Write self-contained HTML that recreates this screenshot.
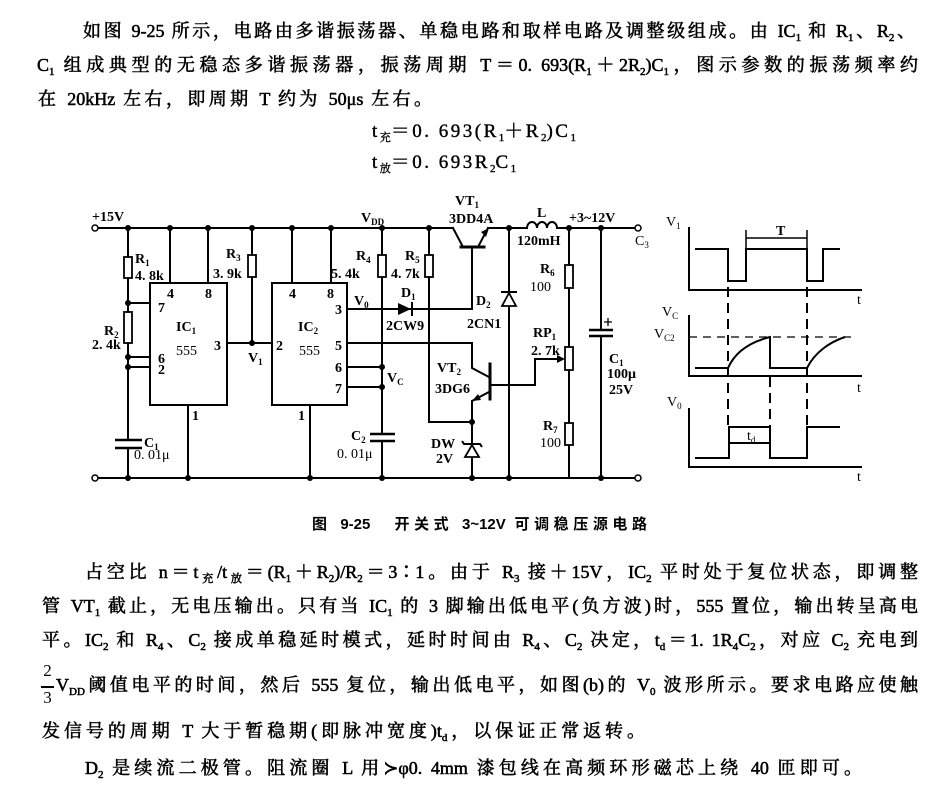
<!DOCTYPE html>
<html>
<head>
<meta charset="utf-8">
<style>
  html,body{margin:0;padding:0;background:#fff;}
  body{width:928px;height:799px;position:relative;overflow:hidden;}
  .ln{position:absolute;height:22px;line-height:22px;font-size:18px;
      font-family:"Liberation Serif","Noto Serif CJK SC",serif;color:#000;
      text-align:justify;text-align-last:justify;-webkit-text-stroke:0.55px #000;}
  .fm{position:absolute;height:22px;line-height:22px;font-size:19px;letter-spacing:2.5px;
      font-family:"Liberation Serif","Noto Serif CJK SC",serif;color:#000;white-space:nowrap;-webkit-text-stroke:0.4px #000;}
  .s{font-size:11px;vertical-align:-4px;line-height:0;letter-spacing:0;}
  .cap{position:absolute;height:20px;line-height:20px;font-size:15px;font-weight:bold;
      font-family:"Liberation Sans","Noto Sans CJK SC",sans-serif;text-align:justify;text-align-last:justify;}
  svg{position:absolute;left:0;top:0;}
  .lb{font-family:"Liberation Serif",serif;font-weight:bold;font-size:14px;fill:#000;}
  .wl{font-family:"Liberation Serif",serif;font-size:14px;fill:#000;}
</style>
</head>
<body>

<div class="ln" style="left:83px;top:20px;width:832px;">如图 9-25 所示，电路由多谐振荡器、单稳电路和取样电路及调整级组成。由 IC<span class="s">1</span> 和 R<span class="s">1</span>、R<span class="s">2</span>、</div>
<div class="ln" style="left:37px;top:54px;width:881px;">C<span class="s">1</span> 组成典型的无稳态多谐振荡器，振荡周期 T＝0. 693(R<span class="s">1</span>＋2R<span class="s">2</span>)C<span class="s">1</span>，图示参数的振荡频率约</div>
<div class="ln" style="left:38px;top:88px;width:394px;">在 20kHz 左右，即周期 T 约为 50μs 左右。</div>
<div class="fm" style="left:372px;top:121px;">t<span class="s">充</span>＝0. 693(R<span class="s">1</span>＋R<span class="s">2</span>)C<span class="s">1</span></div>
<div class="fm" style="left:372px;top:152px;">t<span class="s">放</span>＝0. 693R<span class="s">2</span>C<span class="s">1</span></div>

<svg width="928" height="799" viewBox="0 0 928 799">
 <g stroke="#000" stroke-width="2" fill="none" stroke-linecap="square">
  <path d="M98 228 H453"/>
  <path d="M488 228 H527"/>
  <path d="M527 228 a5 6 0 0 1 10 0 a5 6 0 0 1 10 0 a5 6 0 0 1 10 0"/>
  <path d="M557 228 H635"/>
  <path d="M98 478 H635"/>
  <path d="M128 228 V257 M128 278 V312 M128 343 V440 M128 448 V478"/>
  <path d="M128 303 H150 M128 357 H150 M128 367 H150"/>
  <rect x="150" y="283" width="77" height="122"/>
  <path d="M170 228 V283 M208 228 V283 M188 405 V478"/>
  <path d="M227 343 H272"/>
  <path d="M252 228 V255 M252 277 V343"/>
  <rect x="272" y="283" width="75" height="122"/>
  <path d="M292 228 V283 M331 228 V283 M310 405 V478"/>
  <path d="M347 309 H472"/>
  <path d="M347 343 H472 V368 L489 377"/>
  <path d="M347 367 H382 M347 387 H382"/>
  <path d="M382 228 V255 M382 277 V434 M382 441 V478"/>
  <path d="M429 228 V255 M429 277 V422 H472"/>
  <path d="M453 228 L463 247 M478 247 L488 228 M472 247 V309"/>
  <path d="M461 247 H484" stroke-width="3"/>
  <path d="M490 364 V399" stroke-width="3"/>
  <path d="M489 392 L472 401 V443 M472 457 V478"/>
  <path d="M490 385 H535 V359 H560"/>
  <path d="M509 228 V478"/>
  <path d="M569 228 V265 M569 288 V347 M569 370 V423 M569 445 V478"/>
  <path d="M601 228 V330 M601 336 V478"/>
 </g>
 <g stroke="#000" stroke-width="1.8" fill="#fff">
  <rect x="124" y="257" width="8" height="21"/>
  <rect x="124" y="312" width="8" height="31"/>
  <rect x="248" y="255" width="8" height="22"/>
  <rect x="378" y="255" width="8" height="22"/>
  <rect x="425" y="255" width="8" height="22"/>
  <rect x="565" y="265" width="8" height="23"/>
  <rect x="565" y="347" width="8" height="23"/>
  <rect x="565" y="423" width="8" height="22"/>
 </g>
 <g stroke="#000" stroke-width="2.5" fill="none">
  <path d="M115 440 H142 M115 448 H142"/>
  <path d="M370 434 H395 M370 441 H395"/>
  <path d="M589 330 H613 M589 336 H613"/>
 </g>
 <path d="M604 322 H612 M608 318 V326" stroke="#000" stroke-width="1.3"/>
 <polygon points="398,303 398,315 411,309" fill="#000"/>
 <path d="M412 302 V316" stroke="#000" stroke-width="2"/>
 <polygon points="502,306 516,306 509,293" fill="#fff" stroke="#000" stroke-width="1.8"/>
 <path d="M501 292 H517" stroke="#000" stroke-width="2"/>
 <polygon points="465,457 479,457 472,445" fill="#fff" stroke="#000" stroke-width="1.8"/>
 <path d="M462 441 L464 444 H480 L482 447" stroke="#000" stroke-width="2" fill="none"/>
 <polygon points="489,228 481,232 486,237" fill="#000"/>
 <polygon points="472,401 478,394 481,400" fill="#000"/>
 <polygon points="565,359 557,355 557,363" fill="#000"/>
 <g fill="#000">
  <circle cx="128" cy="228" r="3"/><circle cx="170" cy="228" r="3"/><circle cx="208" cy="228" r="3"/>
  <circle cx="252" cy="228" r="3"/><circle cx="292" cy="228" r="3"/><circle cx="331" cy="228" r="3"/>
  <circle cx="382" cy="228" r="3"/><circle cx="429" cy="228" r="3"/><circle cx="509" cy="228" r="3"/>
  <circle cx="569" cy="228" r="3"/><circle cx="601" cy="228" r="3"/>
  <circle cx="128" cy="478" r="3"/><circle cx="188" cy="478" r="3"/><circle cx="310" cy="478" r="3"/>
  <circle cx="382" cy="478" r="3"/><circle cx="472" cy="478" r="3"/><circle cx="509" cy="478" r="3"/>
  <circle cx="601" cy="478" r="3"/>
  <circle cx="128" cy="303" r="3"/><circle cx="128" cy="357" r="3"/><circle cx="128" cy="367" r="3"/>
  <circle cx="252" cy="343" r="3"/><circle cx="382" cy="367" r="3"/><circle cx="382" cy="387" r="3"/>
  <circle cx="472" cy="422" r="3"/>
 </g>
 <g fill="#fff" stroke="#000" stroke-width="1.5">
  <circle cx="95" cy="228" r="3"/><circle cx="95" cy="478" r="3"/>
  <circle cx="638" cy="228" r="3"/><circle cx="638" cy="478" r="3"/>
 </g>

 <g class="lb">
  <text x="92" y="221">+15V</text>
  <text x="135" y="263">R<tspan font-size="9" dy="3">1</tspan></text>
  <text x="135" y="280">4. 8k</text>
  <text x="104" y="335">R<tspan font-size="9" dy="3">2</tspan></text>
  <text x="92" y="349">2. 4k</text>
  <text x="226" y="258">R<tspan font-size="9" dy="3">3</tspan></text>
  <text x="213" y="278">3. 9k</text>
  <text x="167" y="298">4</text><text x="205" y="298">8</text>
  <text x="158" y="312">7</text>
  <text x="176" y="331">IC<tspan font-size="9" dy="3">1</tspan></text>
  <text x="176" y="355" font-weight="normal">555</text>
  <text x="214" y="350">3</text>
  <text x="158" y="363">6</text><text x="158" y="374">2</text>
  <text x="192" y="420">1</text>
  <text x="248" y="362">V<tspan font-size="9" dy="3">1</tspan></text>
  <text x="144" y="447">C<tspan font-size="9" dy="3">1</tspan></text>
  <text x="134" y="459" font-weight="normal">0. 01μ</text>
  <text x="289" y="298">4</text><text x="327" y="298">8</text>
  <text x="298" y="331">IC<tspan font-size="9" dy="3">2</tspan></text>
  <text x="299" y="355" font-weight="normal">555</text>
  <text x="276" y="350">2</text>
  <text x="298" y="420">1</text>
  <text x="335" y="314">3</text><text x="335" y="350">5</text>
  <text x="335" y="372">6</text><text x="335" y="393">7</text>
  <text x="361" y="222">V<tspan font-size="9" dy="3">DD</tspan></text>
  <text x="356" y="260">R<tspan font-size="9" dy="3">4</tspan></text>
  <text x="331" y="278">5. 4k</text>
  <text x="405" y="260">R<tspan font-size="9" dy="3">5</tspan></text>
  <text x="391" y="278">4. 7k</text>
  <text x="354" y="305">V<tspan font-size="9" dy="3">0</tspan></text>
  <text x="401" y="297">D<tspan font-size="9" dy="3">1</tspan></text>
  <text x="386" y="330">2CW9</text>
  <text x="455" y="205">VT<tspan font-size="9" dy="3">1</tspan></text>
  <text x="449" y="223">3DD4A</text>
  <text x="537" y="217">L</text>
  <text x="517" y="245">120mH</text>
  <text x="569" y="222">+3~12V</text>
  <text x="635" y="245" font-weight="normal">C<tspan font-size="9" dy="3">3</tspan></text>
  <text x="540" y="273">R<tspan font-size="9" dy="3">6</tspan></text>
  <text x="530" y="291" font-weight="normal">100</text>
  <text x="476" y="305">D<tspan font-size="9" dy="3">2</tspan></text>
  <text x="467" y="328">2CN1</text>
  <text x="533" y="337">RP<tspan font-size="9" dy="3">1</tspan></text>
  <text x="531" y="355">2. 7k</text>
  <text x="437" y="372">VT<tspan font-size="9" dy="3">2</tspan></text>
  <text x="435" y="393">3DG6</text>
  <text x="609" y="363">C<tspan font-size="9" dy="3">1</tspan></text>
  <text x="607" y="378">100μ</text>
  <text x="609" y="394">25V</text>
  <text x="543" y="430">R<tspan font-size="9" dy="3">7</tspan></text>
  <text x="540" y="447" font-weight="normal">100</text>
  <text x="431" y="448">DW</text>
  <text x="436" y="463">2V</text>
  <text x="351" y="440">C<tspan font-size="9" dy="3">2</tspan></text>
  <text x="337" y="458" font-weight="normal">0. 01μ</text>
  <text x="387" y="382">V<tspan font-size="9" dy="3">C</tspan></text>
 </g>

 <g stroke="#000" stroke-width="2" fill="none">
  <path d="M689 227 V290 H862"/>
  <path d="M689 315 V376 H862"/>
  <path d="M689 408 V467 H862"/>
  <path d="M695 249 H728 V281 H746 V249 H807 V281 H823 V249 H840"/>
  <path d="M746 230 V249 M807 230 V249 M746 238 H807" stroke-width="1.5"/>
  <path d="M695 368 H728 M728 368 C735 352 750 342 770 337 V368 H807 M807 368 C815 352 830 342 845 337"/>
  <path d="M695 458 H729 V427 H770 V458 H807 V427 H840 M729 443 H770"/>
 </g>
 <g stroke="#000" fill="none">
  <path d="M728 287 V427 M807 287 V427 M770 377 V457" stroke-width="2" stroke-dasharray="10 6"/>
  <path d="M689 337 H853" stroke-width="1.3" stroke-dasharray="8 6"/>
 </g>
 <g class="wl">
  <text x="666" y="226">V<tspan font-size="9" dy="3">1</tspan></text>
  <text x="776" y="235" font-weight="bold">T</text>
  <text x="857" y="304">t</text>
  <text x="857" y="392">t</text>
  <text x="857" y="481">t</text>
  <text x="662" y="316">V<tspan font-size="9" dy="3">C</tspan></text>
  <text x="654" y="338">V<tspan font-size="9" dy="3">C2</tspan></text>
  <text x="667" y="406">V<tspan font-size="9" dy="3">0</tspan></text>
  <text x="747" y="440">t<tspan font-size="9" dy="3">d</tspan></text>
 </g>
</svg>

<div class="cap" style="left:312px;top:515px;width:335px;">图 9-25　开关式 3~12V 可调稳压源电路</div>

<div class="ln" style="left:85px;top:561px;width:833px;">占空比 n＝t<span class="s">充</span>/t<span class="s">放</span>＝(R<span class="s">1</span>＋R<span class="s">2</span>)/R<span class="s">2</span>＝3∶1。由于 R<span class="s">3</span> 接＋15V，IC<span class="s">2</span> 平时处于复位状态，即调整</div>
<div class="ln" style="left:42px;top:595px;width:876px;">管 VT<span class="s">1</span> 截止，无电压输出。只有当 IC<span class="s">1</span> 的 3 脚输出低电平(负方波)时，555 置位，输出转呈高电</div>
<div class="ln" style="left:42px;top:629px;width:876px;">平。IC<span class="s">2</span> 和 R<span class="s">4</span>、C<span class="s">2</span> 接成单稳延时模式，延时时间由 R<span class="s">4</span>、C<span class="s">2</span> 决定，t<span class="s">d</span>＝1. 1R<span class="s">4</span>C<span class="s">2</span>，对应 C<span class="s">2</span> 充电到</div>
<div style="position:absolute;left:41px;top:662px;width:13px;font:17px 'Liberation Serif',serif;text-align:center;line-height:18px;">2</div>
<div style="position:absolute;left:41px;top:686px;width:13px;height:1.5px;background:#000;"></div>
<div style="position:absolute;left:41px;top:689px;width:13px;font:17px 'Liberation Serif',serif;text-align:center;line-height:18px;">3</div>
<div class="ln" style="left:56px;top:674px;width:862px;">V<span class="s">DD</span>阈值电平的时间，然后 555 复位，输出低电平，如图(b)的 V<span class="s">0</span> 波形所示。要求电路应使触</div>
<div class="ln" style="left:42px;top:720px;width:603px;">发信号的周期 T 大于暂稳期(即脉冲宽度)t<span class="s">d</span>，以保证正常返转。</div>
<div class="ln" style="left:85px;top:757px;width:777px;">D<span class="s">2</span> 是续流二极管。阻流圈 L 用≻φ0. 4mm 漆包线在高频环形磁芯上绕 40 匝即可。</div>

</body>
</html>
